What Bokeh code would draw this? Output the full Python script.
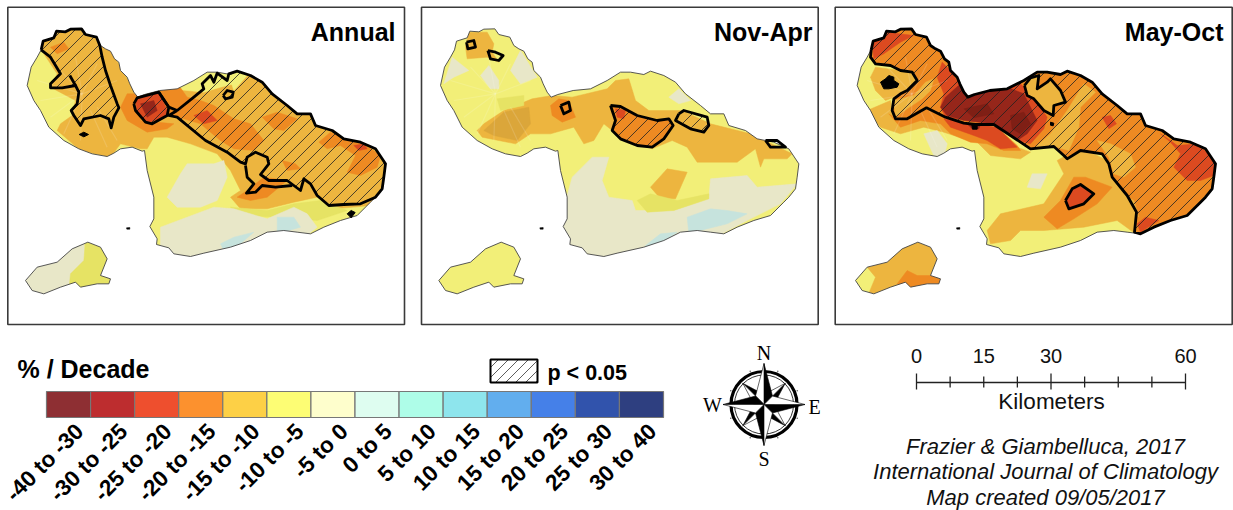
import math
from bokeh.plotting import figure
from bokeh.models import Range1d
from bokeh.core.properties import value
from bokeh.embed import file_html
from bokeh.resources import INLINE

# ---------- palette of map classes ----------
DD = "#7f1f15"; DR = "#96261a"; RD = "#dc4a20"; DO = "#ee8a22"; OR = "#edb53f"; YL = "#f2ef78"; YM = "#e6e364"; GR = "#e8e7c8"; BL = "#c6e3dd"; OD = "#dba63a"

# ---------- legend ----------
legend_labels = ["-40 to -30","-30 to -25","-25 to -20","-20 to -15","-15 to -10","-10 to -5","-5 to 0",
                 "0 to 5","5 to 10","10 to 15","15 to 20","20 to 25","25 to 30","30 to 40"]
legend_colors = ["#8e2f33","#bd2d2f","#ee4f2e","#fc912e","#fdd046","#fdfd74","#fefecc",
                 "#defdf0","#aefde8","#8ee5ed","#62aeee","#4580e8","#3153ac","#2e3f80"]
scale_km = [0, 7.5, 15, 22.5, 30, 37.5, 45, 52.5, 60]
scale_labels = {0: "0", 15: "15", 30: "30", 60: "60"}
credits = ["Frazier & Giambelluca, 2017", "International Journal of Climatology", "Map created 09/05/2017"]

# ---------- geography (map units) ----------
north_coast = [(122,148),(128,122),(160,112),(168,92),(195,94),(210,86),(243,85),(255,102),(288,110),(300,135),(315,145),(330,152),(342,175),(355,185),(360,210),(380,230),(388,250),(400,275),(412,290),(432,282),(478,270),(530,265),(580,240),(620,215),(650,215),(690,222),(710,212),(750,225),(785,245),(815,280),(860,315),(890,340),(930,340),(945,375),(995,390),(1030,415),(1080,425),(1125,445),(1155,490),(1150,530),(1145,565),(1125,590)]
se_coast = [(1110,605),(1070,645),(1020,660),(970,680),(930,700)]
south_coast = [(890,695),(850,690),(800,695),(750,720),(690,740),(610,758),(570,768),(520,760),(505,742),(468,732),(470,715),(448,678),(460,655),(460,590),(440,510),(432,450),(425,452),(395,440),(360,445),(340,458),(320,468),(275,460),(235,445),(190,420),(145,380),(120,330),(100,300),(80,255),(92,200),(110,170)]
maui_coast = north_coast + se_coast + south_coast
kahoolawe_coast = [(75,840),(110,800),(170,785),(215,745),(262,725),(300,740),(320,775),(300,825),(330,835),(325,850),(290,850),(240,860),(225,845),(180,860),(130,880),(95,870)]
islet = [(378,682),(388,681),(388,686),(379,686)]
west_ridges = [[(245,280),(150,350)],[(245,280),(120,300)],[(245,280),(110,240)],[(245,280),(170,200)],[(245,280),(225,170)],[(245,280),(290,190)],[(245,280),(350,240)],[(245,280),(240,420)],[(245,280),(190,400)],[(270,330),(320,440)],[(290,320),(350,420)]]

ALL = [(30,30),(1190,30),(1190,950),(30,950)]

annual_fill = [
 (YL, ALL),
 (OR, [(110,110),(260,70),(320,130),(400,270),(420,260),(620,200),(800,230),(1170,440),(1170,610),(1000,625),(950,590),(880,605),(800,625),(720,625),(690,590),(720,570),(690,510),(650,460),(570,430),(500,410),(460,410),(440,445),(420,445),(360,430),(330,470),(240,450),(170,390),(180,370),(215,345),(225,300),(150,260),(170,220),(130,160)]),
 (YL, [(520,255),(560,225),(640,205),(700,205),(700,250),(660,260),(610,275),(540,268)]),
 (YL, [(700,205),(740,225),(700,270),(690,240)]),
 (DO, [(480,270),(540,262),(560,290),(600,300),(640,315),(700,355),(750,370),(790,420),(760,450),(700,445),(660,420),(630,395),(600,370),(500,340),(470,300)]),
 (DO, [(785,350),(830,335),(890,355),(850,390),(820,385)]),
 (DO, [(955,425),(990,395),(1040,420),(1090,430),(1140,465),(1130,500),(1080,525),(1040,515),(1065,465),(1020,435),(980,445)]),
 (DO, [(150,140),(190,125),(205,145),(170,160)]),
 (DO, [(380,280),(420,280),(420,360),(520,370),(500,385),(440,395),(380,360),(360,320)]),
 (DO, [(740,570),(790,530),(860,540),(800,590),(750,600),(710,590)]),
 (DO, [(845,480),(885,490),(900,505),(860,510)]),
 (RD, [(405,295),(475,275),(505,340),(490,350),(440,370),(410,340)]),
 (DR, [(420,310),(460,300),(470,330),(440,350)]),
 (RD, [(580,345),(620,330),(650,360),(610,370)]),
 (RD, [(1060,435),(1090,430),(1100,445),(1075,450)]),
 (YM, [(690,620),(800,630),(880,610),(960,600),(1040,630),(950,660),(830,650),(720,645)]),
 (GR, [(480,680),(560,650),(640,620),(700,625),(800,655),(880,620),(920,640),(950,680),(900,720),(700,770),(600,780),(480,750)]),
 (GR, [(500,590),(540,520),(560,490),(640,490),(670,480),(680,530),(650,600),(600,620),(530,620)]),
 (GR, [(60,790),(250,710),(260,890),(60,890)]),
 (YM, [(255,720),(340,760),(345,870),(205,870),(210,820),(250,780)]),
 (BL, [(830,650),(880,650),(900,680),(830,700)]),
 (BL, [(660,730),(700,710),(760,695),(720,730),(670,750)]),
]
annual_w = [(122,148),(128,122),(160,112),(168,92),(195,94),(210,86),(243,85),(255,102),(288,110),(298,135),(305,170),(315,210),(330,255),(350,310),(355,322),(340,350),(332,382),(325,355),(300,345),(250,355),(240,375),(220,345),(212,330),(230,310),(235,275),(225,255),(185,262),(150,262),(150,250),(180,220),(150,170)]
annual_spur = [(225,255),(208,225)]
annual_iso = [(400,310),(410,292),(475,275),(505,320),(500,345),(455,370),(435,365),(405,330)]
annual_main = [(530,330),(580,290),(610,265),(605,250),(630,225),(640,245),(650,218),(680,240),(685,220),(710,212),(750,225),(785,245),(815,280),(860,315),(890,340),(930,340),(945,375),(995,390),(1030,415),(1080,425),(1125,445),(1155,490),(1150,530),(1145,565),(1125,590),(1080,610),(1030,612),(985,615),(950,585),(930,550),(910,535),(900,570),(880,555),(860,540),(805,540),(780,522),(805,490),(800,470),(765,455),(740,470),(735,490),(720,485),(680,455),(615,420),(530,350),(505,345)]
annual_sig = [annual_w, annual_iso, annual_main, [(668,285),(680,270),(698,275),(695,290),(675,295)]]
annual_lines = [annual_spur, [(475,275),(505,320),(530,330)], [(735,495),(740,530),(760,550),(738,578),(765,575),(785,555),(825,560),(875,555)]]
annual_hatch = [annual_w, annual_main]
annual_hatch2 = [annual_iso]
annual_dots = [[(236,402),(250,395),(264,402),(250,409)], [(1040,640),(1052,630),(1064,636),(1052,652)]]

novapr_fill = [
 (YL, ALL),
 (OR, [(185,390),(205,370),(265,330),(350,295),(410,285),(470,290),(575,265),(600,240),(640,235),(660,300),(700,330),(800,330),(885,370),(1005,400),(1130,460),(1115,475),(1045,475),(1035,500),(1020,445),(965,485),(845,485),(815,440),(770,420),(710,445),(615,410),(565,370),(535,420),(505,430),(475,380),(405,400),(345,400),(300,430),(200,410)]),
 (OR, [(150,140),(160,95),(215,95),(235,130),(230,155),(250,185),(215,170),(155,175)]),
 (OR, [(705,560),(755,505),(815,515),(780,595),(735,595)]),
 (OD, [(205,390),(265,335),(340,320),(345,370),(305,420),(235,405)]),
 (YM, [(245,295),(325,285),(325,315),(255,330)]),
 (DO, [(405,315),(430,295),(460,300),(480,350),(440,365),(410,345)]),
 (DO, [(585,315),(615,318),(665,345),(725,360),(760,355),(773,375),(745,415),(710,440),(665,435),(615,415),(590,390),(600,360)]),
 (RD, [(600,325),(630,330),(625,355),(605,350)]),
 (GR, [(85,250),(110,170),(160,210),(115,230)]),
 (GR, [(195,225),(220,195),(250,240),(250,265),(225,265)]),
 (GR, [(285,210),(315,150),(365,230),(315,250)]),
 (GR, [(760,290),(790,265),(825,300),(790,310)]),
 (GR, [(470,530),(530,470),(580,470),(560,540),(580,590),(650,600),(660,630),(775,630),(880,595),(885,535),(995,525),(1025,560),(1145,550),(1095,610),(995,660),(900,710),(600,790),(440,730),(440,640)]),
 (YM, [(665,600),(705,580),(785,600),(880,580),(880,595),(775,630),(695,635)]),
 (BL, [(815,650),(885,625),(935,630),(995,640),(935,670),(855,690),(820,700)]),
 (BL, [(690,735),(735,700),(785,695),(705,750)]),
 (YL, [(40,700),(330,700),(350,900),(40,900)]),
]
novapr_big = [(585,315),(615,318),(665,345),(725,360),(760,355),(773,375),(745,415),(710,440),(665,435),(615,415),(590,390),(600,360)]
novapr_mid = [(790,340),(805,330),(875,350),(880,375),(865,395),(825,385),(780,360)]
novapr_sig = [
 [(153,125),(175,120),(180,140),(157,145)],
 [(217,150),(240,155),(263,165),(250,180),(225,175)],
 [(435,315),(460,305),(465,330),(445,340)],
 novapr_big, novapr_mid,
 [(1050,420),(1085,420),(1110,440),(1065,440)],
]
novapr_hatch = [novapr_big, novapr_mid]

mayoct_outer = north_coast + se_coast + [(912,695),(918,635),(890,585),(845,530),(835,490),(815,460),(750,450),(710,475),(700,465),(670,438),(600,445),(540,405),(490,372),(435,372),(400,368),(345,350),(288,322),(230,355),(195,355),(185,330),(190,295),(210,280),(230,270),(260,240),(245,215),(210,210),(180,195),(135,190),(120,170)]
mayoct_fill = [
 (YL, ALL),
 (OR, [(110,800),(240,720),(300,730),(340,770),(345,880),(110,890),(135,830)]),
 (DO, [(200,850),(230,810),(260,825),(335,825),(335,865),(250,875)]),
 (OR, [(470,690),(510,640),(640,610),(700,520),(680,480),(750,440),(830,480),(890,585),(925,650),(915,700),(860,660),(760,680),(640,690),(570,690),(540,720),(480,730)]),
 (DO, [(640,650),(690,600),(730,530),(765,530),(845,560),(800,610),(730,655),(680,685)]),
 (OR, [(135,200),(210,210),(250,220),(255,240),(225,275),(190,290),(165,300),(135,270),(120,230)]),
 (OR, [(110,330),(180,300),(190,355),(290,330),(350,355),(560,440),(600,455),(570,475),(480,465),(440,425),(400,415),(340,395),(280,380),(210,400),(150,380)]),
 (DO, [(175,340),(190,350),(240,350),(290,325),(345,355),(400,370),(500,380),(560,435),(570,450),(520,450),(470,430),(420,425),(360,400),(330,370),(270,360),(210,380)]),
 (RD, [(340,355),(430,370),(500,380),(530,410),(560,440),(510,445),(470,420),(430,405),(360,380)]),
 (DR, [(410,370),(450,372),(445,385),(425,385)]),
 (DO, mayoct_outer),
 (RD, [(125,130),(170,95),(250,105),(210,125),(160,160),(130,175)]),
 (OR, [(250,285),(285,245),(310,235),(300,270),(275,295),(230,325),(195,350),(190,300)]),
 (OR, [(610,445),(660,400),(710,330),(760,250),(795,275),(750,320),(745,380),(715,450),(660,435)]),
 (OR, [(800,420),(840,430),(900,460),(915,500),(880,530),(850,520),(835,470)]),
 (OR, [(870,580),(910,600),(925,650),(905,620)]),
 (RD, [(320,230),(335,185),(360,210),(400,275),(570,250),(610,290),(650,350),(640,385),(600,430),(560,420),(490,372),(345,350),(330,320),(340,280)]),
 (DR, [(345,290),(390,250),(410,285),(530,260),(580,280),(620,360),(590,400),(560,420),(530,395),(490,370),(400,360),(350,345),(330,320)]),
 (DD, [(540,345),(580,335),(600,370),(570,400),(545,385)]),
 (DD, [(400,325),(470,310),(490,340),(430,352)]),
 (OR, [(582,255),(600,232),(625,225),(620,265),(650,245),(660,235),(690,270),(705,305),(670,315),(668,345),(640,330),(610,295),(590,285)]),
 (RD, [(815,350),(840,345),(858,370),(835,385)]),
 (RD, [(990,400),(1020,420),(1040,435),(1100,430),(1155,480),(1150,525),(1110,540),(1070,540),(1030,500),(1050,460),(1020,425)]),
 (RD, [(920,670),(945,650),(985,660),(930,695)]),
 (RD, [(705,600),(725,565),(750,552),(790,580),(760,610),(715,625)]),
 (GR, [(280,400),(320,390),(350,430),(340,470),(310,465)]),
 (GR, [(590,560),(605,520),(650,520),(630,565)]),
]
mayoct_hole = [(582,255),(600,232),(625,225),(620,265),(650,245),(660,235),(690,270),(705,305),(670,315),(668,345),(640,330),(610,295),(590,285)]
mayoct_sig = [mayoct_outer, mayoct_hole, [(705,600),(725,565),(750,552),(790,580),(760,610),(715,625)]]
mayoct_hatch = [mayoct_outer, mayoct_hole]
mayoct_dots = [[(424,372),(440,372),(440,386),(426,386)], [(660,365),(670,368),(668,376),(660,374)],
               [(150,245),(165,235),(175,225),(190,230),(190,240),(205,250),(200,260),(175,265),(160,265)]]

panels = [
 dict(title="Annual",  org=0,   shift=0,  fill=annual_fill, sig=annual_sig, lines=annual_lines, hatch=[annual_hatch, annual_hatch2], dots=annual_dots, frame=(7.3,404,6.7,324), tx=395),
 dict(title="Nov-Apr", org=415, shift=-5, fill=novapr_fill, sig=novapr_sig, lines=[], hatch=[novapr_hatch], dots=[], frame=(421,817.7,6.7,324), tx=812),
 dict(title="May-Oct", org=830, shift=0,  fill=mayoct_fill, sig=mayoct_sig, lines=[], hatch=[mayoct_hatch], dots=mayoct_dots, frame=(834.7,1231.7,6.7,324), tx=1223),
]

p = figure(width=1233, height=510, output_backend="svg", toolbar_location=None,
           x_range=Range1d(0, 1233), y_range=Range1d(510, 0),
           x_axis_location=None, y_axis_location=None, min_border=0, outline_line_color=None,
           background_fill_color="white", border_fill_color="white")
p.grid.visible = False

def X(pts, org): return [a/3 + org for a, b in pts]
def Y(pts): return [b/3 for a, b in pts]

def hatch_segments(rings, step=39):
    """Clip the diagonal lines x+y=c to the even-odd area of the rings."""
    xs, ys = [], []
    for c in range(0, 2400, step):
        hits = []
        for r in rings:
            for i in range(len(r)):
                (x0, y0), (x1, y1) = r[i], r[(i+1) % len(r)]
                s0, s1 = x0+y0-c, x1+y1-c
                if (s0 < 0) != (s1 < 0):
                    t = s0/(s0-s1)
                    hits.append((x0+t*(x1-x0), y0+t*(y1-y0)))
        hits.sort()
        for a, b in zip(hits[0::2], hits[1::2]):
            xs.append([a[0], b[0]]); ys.append([a[1], b[1]])
    return xs, ys

for P in panels:
    org, sh = P["org"], P["shift"]
    x0, x1, y0, y1 = P["frame"]
    for col, poly in P["fill"]:
        p.patch(X(poly, org), Y(poly), fill_color=col, line_color=col, line_width=0.5)
    p.multi_line([[(a+sh)/3+org for a, b in r] for r in west_ridges], [[b/3 for a, b in r] for r in west_ridges],
                 line_color="white", line_alpha=0.14, line_width=1.2)
    for rings in P["hatch"]:
        hx, hy = hatch_segments(rings)
        p.multi_line([[a/3+org for a in s] for s in hx], [[b/3 for b in s] for s in hy], line_color="#222222", line_width=0.8)
    coast = [(a+sh, b) for a, b in maui_coast]
    kah = [(a+sh, b) for a, b in kahoolawe_coast]
    isl = [(a+sh, b) for a, b in islet]
    outer_x, outer_y = [x0, x1, x1, x0], [y0, y0, y1, y1]
    p.multi_polygons(xs=[[[outer_x, X(coast, org), X(kah, org)]]], ys=[[[outer_y, Y(coast), Y(kah)]]],
                     fill_color="white", line_color=None)
    p.patches([X(coast, org), X(kah, org)], [Y(coast), Y(kah)], fill_color=None, line_color="#444444", line_width=0.9)
    p.patch(X(isl, org), Y(isl), fill_color="black", line_color="black", line_width=0.5)
    for s in P["sig"]:
        closed = s + [s[0]]
        p.line(X(closed, org), Y(closed), line_color="black", line_width=2.8, line_join="round")
    for s in P["lines"]:
        p.line(X(s, org), Y(s), line_color="black", line_width=2.8, line_join="round")
    for d in P["dots"]:
        p.patch(X(d, org), Y(d), fill_color="black", line_color="black", line_width=1)
    p.quad(left=[x0], right=[x1], top=[y0], bottom=[y1], fill_color=None, line_color="#3a3a3a", line_width=1.6)
    p.text(x=[P["tx"]], y=[31], text=[P["title"]], text_font=value("Liberation Sans"), text_font_style="bold",
           text_font_size="25px", text_align="right", text_baseline="middle", text_color="black")

# ---------- legend ----------
bar_l, bar_r, bar_t, bar_b = 46.0, 663.0, 391.0, 417.0
w = (bar_r - bar_l)/len(legend_colors)
lefts = [bar_l + i*w for i in range(len(legend_colors))]
p.quad(left=lefts, right=[a+w for a in lefts], top=bar_t, bottom=bar_b, fill_color=legend_colors, line_color="#777777", line_width=1.2)
p.text(x=[a+w/2+11 for a in lefts], y=[427]*len(lefts), text=legend_labels, angle=math.pi/4,
       text_font=value("Liberation Sans"), text_font_style="bold", text_font_size="22.5px",
       text_align="right", text_baseline="middle", text_color="black")
p.text(x=[17], y=[368], text=["% / Decade"], text_font=value("Liberation Sans"), text_font_style="bold",
       text_font_size="25px", text_baseline="middle", text_color="black")
p.text(x=[547], y=[372], text=["p < 0.05"], text_font=value("Liberation Sans"), text_font_style="bold",
       text_font_size="21.5px", text_baseline="middle", text_color="black")
box = (490, 537, 359, 382)
hxs, hys = [], []
for c in range(box[0]+box[2]+8, box[1]+box[3], 10):
    xa = max(box[0], c-box[3]); xb = min(box[1], c-box[2])
    hxs.append([xa, xb]); hys.append([c-xa, c-xb])
p.multi_line(hxs, hys, line_color="#333333", line_width=0.8)
p.quad(left=[box[0]], right=[box[1]], top=[box[2]], bottom=[box[3]], fill_color=None, line_color="black", line_width=2)

# ---------- compass ----------
cx, cy = 763.5, 404.0
p.circle(x=[cx], y=[cy], radius=33, fill_color="white", line_color="black", line_width=3.2)
p.circle(x=[cx], y=[cy], radius=29.5, fill_color=None, line_color="black", line_width=0.8)
for k in range(8):
    a = math.radians(22.5 + 45*k)
    p.scatter(x=[cx+36*math.cos(a)], y=[cy+36*math.sin(a)], size=1.6, marker="circle", fill_color="#666666", line_color=None)
def star(n_deg, tip, side):
    a = math.radians(n_deg)
    tx_, ty_ = cx+tip*math.sin(a), cy-tip*math.cos(a)
    for sgn, col in ((1, "black"), (-1, "white")):
        b = a + sgn*math.pi/4
        sx, sy = cx+side*math.sin(b), cy-side*math.cos(b)
        p.patch([cx, tx_, sx], [cy, ty_, sy], fill_color=col, line_color="black", line_width=0.6)
for d in (45, 135, 225, 315):
    star(d, 30, 10)
for d in (0, 90, 180, 270):
    star(d, 41, 12)
compass_labels = [("N", cx, 352), ("S", cx, 458), ("W", 712, 404), ("E", 814, 406)]
p.text(x=[c[1] for c in compass_labels], y=[c[2] for c in compass_labels], text=[c[0] for c in compass_labels],
       text_font=value("Liberation Serif"), text_font_size="20px", text_align="center", text_baseline="middle", text_color="black")

# ---------- scale bar ----------
sx0, sx1 = 916.0, 1185.0
km = lambda v: sx0 + (sx1-sx0)*v/60
p.segment(x0=[sx0], y0=[382], x1=[sx1], y1=[382], line_color="#222222", line_width=1.3)
p.segment(x0=[km(v) for v in scale_km], y0=[373 if v % 30 == 0 else 376 for v in scale_km],
          x1=[km(v) for v in scale_km], y1=[389 if v % 30 == 0 else 387 for v in scale_km], line_color="#222222", line_width=1.3)
p.text(x=[km(v) for v in scale_labels], y=[355]*len(scale_labels), text=list(scale_labels.values()),
       text_font=value("Liberation Sans"), text_font_size="20px", text_align="center", text_baseline="middle", text_color="#111111")
p.text(x=[1051], y=[401], text=["Kilometers"], text_font=value("Liberation Sans"), text_font_size="22.5px",
       text_align="center", text_baseline="middle", text_color="#111111")
p.text(x=[1045]*3, y=[446, 471, 497], text=credits, text_font=value("Liberation Sans"), text_font_style="italic",
       text_font_size="22px", text_align="center", text_baseline="middle", text_color="#111111")

open("out.html", "w").write(file_html(p, INLINE))
